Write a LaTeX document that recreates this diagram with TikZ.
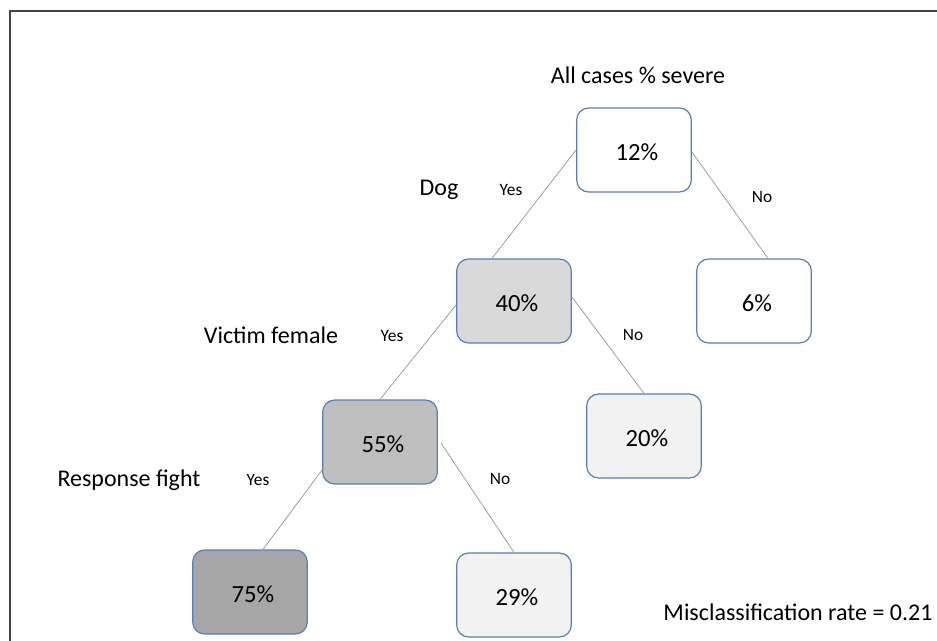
\documentclass[tikz,border=0pt]{standalone}
\usepackage{fontspec}
\setmainfont{Carlito}
\usetikzlibrary{calc}
\definecolor{boxblue}{HTML}{5A7DBA}
\definecolor{linegray}{HTML}{A0A0A0}
\definecolor{fillA}{HTML}{D9D9D9}
\definecolor{fillB}{HTML}{BFBFBF}
\definecolor{fillC}{HTML}{A6A6A6}
\definecolor{fillD}{HTML}{F2F2F2}
\definecolor{framegray}{HTML}{444444}
\newcommand{\boxtxt}[1]{\hspace*{4.5pt}\raisebox{0pt}[\dimexpr\height+4pt\relax][\depth]{#1}}
\tikzset{
  leaf/.style={draw=boxblue, line width=0.9pt, rounded corners=9pt, minimum width=86pt, minimum height=63pt, inner sep=0pt, font=\fontsize{18.5}{20}\selectfont, text=black},
  edge/.style={draw=linegray, line width=0.6pt},
  biglabel/.style={font=\fontsize{18}{20}\selectfont, inner sep=0pt},
  small/.style={font=\fontsize{13}{15}\selectfont, inner sep=0pt}
}
\begin{document}
\begin{tikzpicture}[x=0.75pt,y=-0.75pt]
\useasboundingbox (0,0) rectangle (937,641);
\fill[white] (0,0) rectangle (937,641);
\draw[framegray, line width=1.5pt] (10,645) -- (10,11) -- (940,11);

\node[leaf, fill=white] (n12) at (634,150) {\boxtxt{12\%}};
\node[leaf, fill=fillA] (n40) at (514,301) {\boxtxt{40\%}};
\node[leaf, fill=white] (n6) at (754,301) {\boxtxt{6\%}};
\node[leaf, fill=fillB] (n55) at (380,442) {\boxtxt{55\%}};
\node[leaf, fill=fillD] (n20) at (644,436) {\boxtxt{20\%}};
\node[leaf, fill=fillC] (n75) at (250,592) {\boxtxt{75\%}};
\node[leaf, fill=fillD] (n29) at (514,595) {\boxtxt{29\%}};

\draw[edge] (n12.west) -- ($(n40.north)+(-22,0)$);
\draw[edge] ($(n12.east)+(0,2)$) -- ($(n6.north)+(14,0)$);
\draw[edge] ($(n40.west)+(0,4)$) -- (n55.north);
\draw[edge] ($(n40.east)+(0,-4)$) -- (n20.north);
\draw[edge] ($(n55.west)+(0,28)$) -- ($(n75.north)+(13,0)$);
\draw[edge] ($(n55.east)+(3,1)$) -- (n29.north);

\node[biglabel] (title) at (638,75) {All cases \% severe};
\node[biglabel] (dog) at (439,190) {Dog};
\node[small] (y1) at (511,190) {Yes};
\node[small] (no1) at (762,197) {No};
\node[biglabel] (vf) at (271,335) {Victim female};
\node[small] (y2) at (392,336) {Yes};
\node[small] (no2) at (633,335) {No};
\node[biglabel] (rf) at (129,480) {Response fight};
\node[small] (y3) at (258,480) {Yes};
\node[small] (no3) at (500,479) {No};
\node[biglabel] (mr) at (798,612) {Misclassification rate = 0.21};
\end{tikzpicture}
\end{document}
